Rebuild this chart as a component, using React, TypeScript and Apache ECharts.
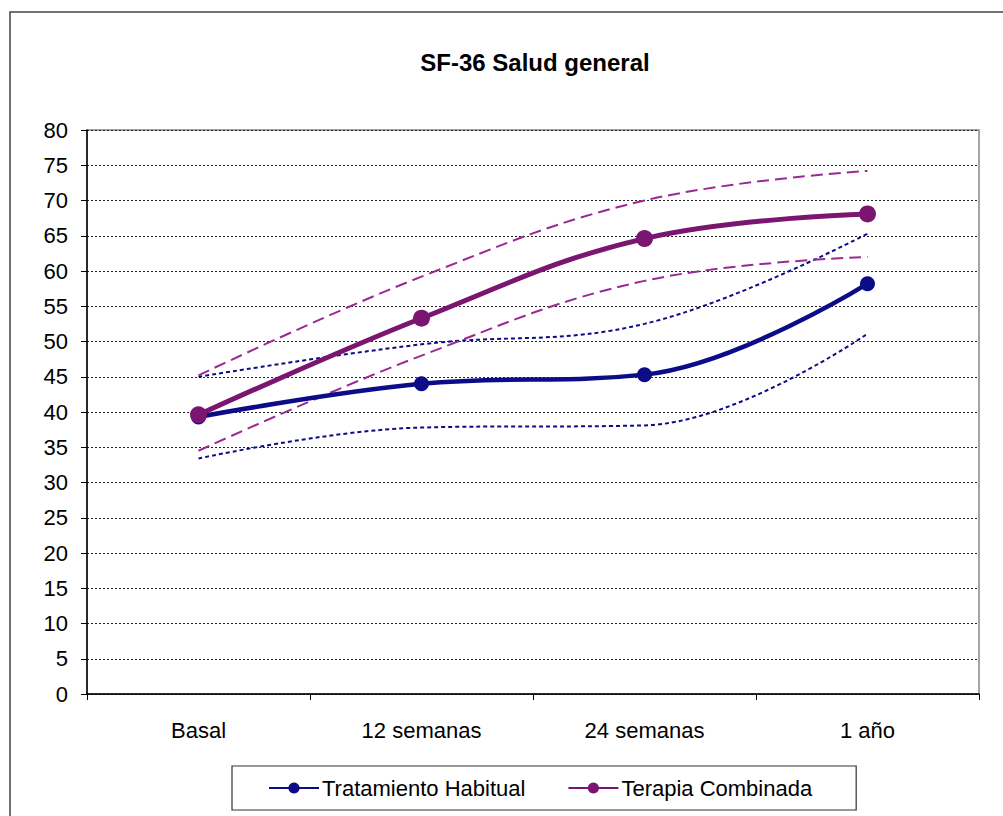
import React, { useEffect, useRef } from "react";
import * as echarts from "echarts";

const categories = ["Basal", "12 semanas", "24 semanas", "1 año"];
const habitual = [39.3, 44.0, 45.3, 58.2];
const habitualUpper = [45.0, 49.6, 52.5, 65.3];
const habitualLower = [33.4, 37.8, 38.1, 51.1];
const combinada = [39.6, 53.3, 64.6, 68.1];
const combinadaUpper = [45.2, 59.2, 70.0, 74.2];
const combinadaLower = [34.5, 48.0, 58.6, 62.0];

const NAVY = "#0c0c88";
const PURPLE = "#7a1670";
const PURPLE_DASH = "#9a2a92";
const FONT = "Liberation Sans, Arial, sans-serif";

export default function App() {
  const ref = useRef<HTMLDivElement>(null);
  useEffect(() => {
    if (!ref.current) return;
    const chart = echarts.init(ref.current, undefined, { renderer: "svg" });
    const ciSeries = (name: string, data: number[], color: string, dash: number[]) => ({
      name,
      type: "line",
      data,
      smooth: 0.4,
      symbol: "none",
      silent: true,
      lineStyle: { color, width: 2, type: dash },
      z: 2,
    });
    chart.setOption({
      animation: false,
      backgroundColor: "#ffffff",
      textStyle: { fontFamily: FONT },
      title: {
        text: "SF-36 Salud general",
        left: 530,
        top: 45,
        textAlign: "center",
        textStyle: { fontSize: 24, fontWeight: "bold", color: "#000", fontFamily: FONT },
      },
      graphic: [
        {
          type: "rect",
          shape: { x: 10, y: 12, width: 1100, height: 900 },
          style: { fill: "none", stroke: "#444", lineWidth: 1.5 },
          silent: true,
          z: -10,
        },
      ],
      legend: {
        data: ["Tratamiento Habitual", "Terapia Combinada"],
        left: 232,
        top: 766,
        orient: "horizontal",
        borderColor: "#333",
        borderWidth: 1.2,
        padding: [11, 44, 11, 36],
        itemGap: 42,
        itemWidth: 50,
        itemHeight: 14,
        textStyle: { fontSize: 22, color: "#000", fontFamily: FONT, padding: [0, 0, 0, -2] },
      },
      grid: {
        left: 87,
        right: 24,
        top: 130,
        bottom: 122,
        show: true,
        borderColor: "#888",
        borderWidth: 1.5,
        containLabel: false,
      },
      xAxis: {
        type: "category",
        data: categories,
        boundaryGap: true,
        axisLine: { show: true, lineStyle: { color: "#000", width: 1.5 } },
        axisTick: { show: true, length: 6, interval: 0, lineStyle: { color: "#000" } },
        axisLabel: { fontSize: 22, color: "#000", margin: 25, fontFamily: FONT },
        splitLine: { show: false },
      },
      yAxis: {
        type: "value",
        min: 0,
        max: 80,
        interval: 5,
        axisLine: { show: true, lineStyle: { color: "#000", width: 1.5 } },
        axisTick: { show: true, length: 6, lineStyle: { color: "#000" } },
        axisLabel: { fontSize: 22, color: "#000", margin: 19, fontFamily: FONT },
        splitLine: { show: true, lineStyle: { color: "#222", width: 1, type: [2, 2] } },
      },
      series: [
        ciSeries("HU upper", habitualUpper, NAVY, [4, 3]),
        ciSeries("HU lower", habitualLower, NAVY, [4, 3]),
        ciSeries("TC upper", combinadaUpper, PURPLE_DASH, [12, 6]),
        ciSeries("TC lower", combinadaLower, PURPLE_DASH, [12, 6]),
        {
          name: "Tratamiento Habitual",
          type: "line",
          data: habitual,
          smooth: 0.4,
          symbol: "circle",
          symbolSize: 15,
          itemStyle: { color: NAVY },
          lineStyle: { color: NAVY, width: 4.5 },
          z: 4,
        },
        {
          name: "Terapia Combinada",
          type: "line",
          data: combinada,
          smooth: 0.4,
          symbol: "circle",
          symbolSize: 17,
          itemStyle: { color: PURPLE },
          lineStyle: { color: PURPLE, width: 5 },
          z: 5,
        },
      ],
    });
    return () => chart.dispose();
  }, []);
  return (
    <div
      ref={ref}
      style={{ position: "absolute", left: 0, top: 0, width: 1003, height: 816, background: "#fff" }}
    />
  );
}
